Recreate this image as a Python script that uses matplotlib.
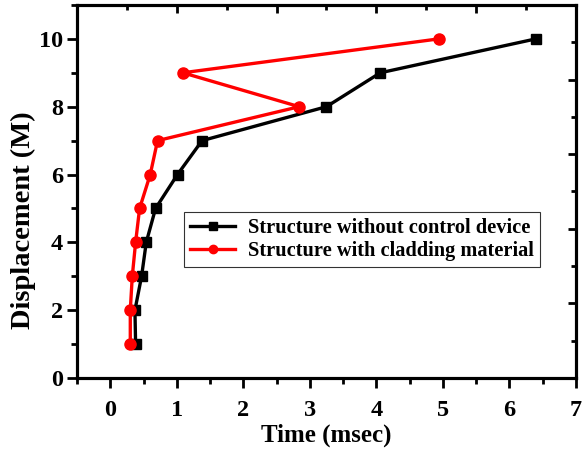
import matplotlib
matplotlib.use('Agg')
import matplotlib.pyplot as plt
from matplotlib.ticker import MultipleLocator

plt.rcParams['font.family'] = 'Liberation Serif'
plt.rcParams['font.weight'] = 'bold'

# displacement levels (M)
displacement = [1, 2, 3, 4, 5, 6, 7, 8, 9, 10]
# time (msec) for each level
time_no_control = [0.38, 0.37, 0.47, 0.54, 0.68, 1.01, 1.38, 3.25, 4.06, 6.40]
time_cladding = [0.30, 0.30, 0.33, 0.38, 0.44, 0.60, 0.71, 2.84, 1.09, 4.94]

fig = plt.figure(figsize=(5.84, 4.5), dpi=100)
ax = fig.add_axes([0.132, 0.16, 0.854, 0.829])

ax.plot(time_no_control, displacement, color='black', lw=2.4, marker='s', ms=7,
        label='Structure without control device')
ax.plot(time_cladding, displacement, color='red', lw=2.4, marker='o', ms=8,
        label='Structure with cladding material')

ax.set_xlim(-0.5, 7)
ax.set_ylim(0, 11)
ax.xaxis.set_major_locator(MultipleLocator(1))
ax.xaxis.set_minor_locator(MultipleLocator(0.5))
ax.yaxis.set_major_locator(MultipleLocator(2))
ax.yaxis.set_minor_locator(MultipleLocator(1))
ax.tick_params(which='major', direction='out', length=7, width=2, labelsize=17.5)
ax.tick_params(axis='x', which='major', pad=9)
ax.tick_params(axis='y', which='major', pad=3)
ax.tick_params(which='minor', direction='out', length=4, width=2)
for lab in ax.get_xticklabels() + ax.get_yticklabels():
    lab.set_fontweight('bold')
for sp in ax.spines.values():
    sp.set_linewidth(2.2)

ax.set_xlabel('Time (msec)', fontsize=18, fontweight='bold', labelpad=2)
ax.set_ylabel('Displacement (M)', fontsize=20.5, fontweight='bold')
ax.yaxis.set_label_coords(-0.083, 0.424)

# top and right axes with their own inward ticks, no labels
top = ax.twiny()
top.set_xlim(0, 10)
top.xaxis.set_major_locator(MultipleLocator(2))
top.xaxis.set_minor_locator(MultipleLocator(1))
top.tick_params(which='major', direction='in', length=6, width=2, labeltop=False)
top.tick_params(which='minor', direction='in', length=3.5, width=2)
right = ax.twinx()
right.set_ylim(0, 10)
right.yaxis.set_major_locator(MultipleLocator(2))
right.yaxis.set_minor_locator(MultipleLocator(1))
right.tick_params(which='major', direction='in', length=6, width=2, labelright=False)
right.tick_params(which='minor', direction='in', length=3.5, width=2)
for a in (top, right):
    for sp in a.spines.values():
        sp.set_linewidth(2.2)

leg = ax.legend(loc='upper left', bbox_to_anchor=(0.215, 0.445),
                frameon=True, fancybox=False, edgecolor='black', handlelength=2.2,
                borderpad=0.3, labelspacing=0.15, handletextpad=0.6, borderaxespad=0,
                markerscale=0.75, prop={'weight': 'bold', 'size': 14.7})
leg.get_frame().set_linewidth(0.8)

fig.savefig('out.png', dpi=100)
